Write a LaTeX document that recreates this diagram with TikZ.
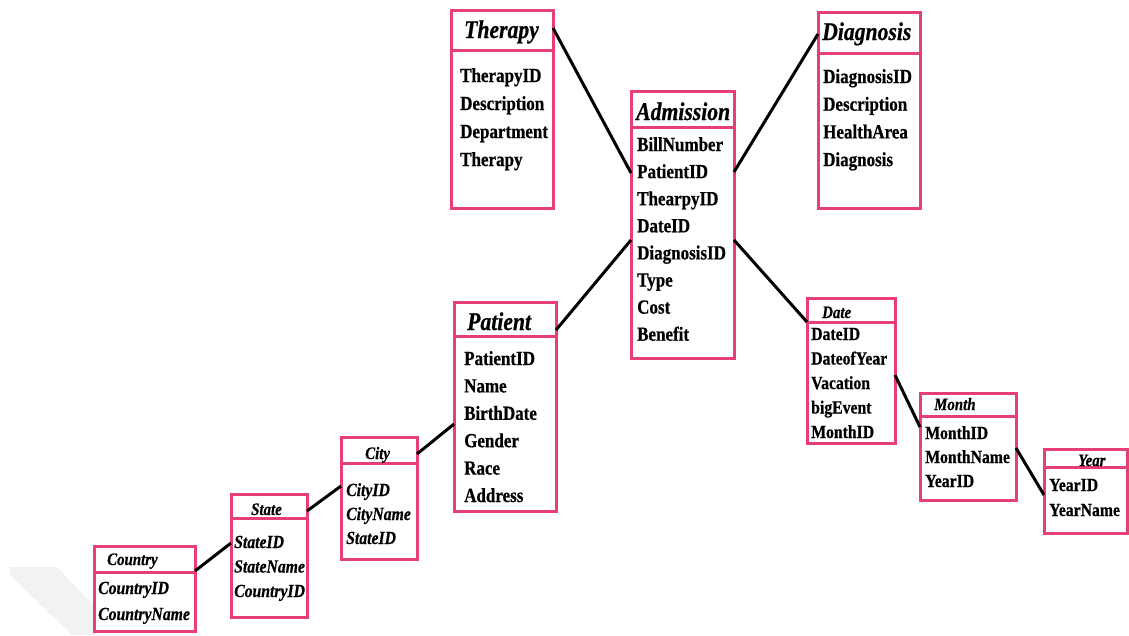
\documentclass[tikz,border=0pt]{standalone}
\usepackage{fontspec}
\newfontfamily\erfont{Liberation Serif}[FakeStretch=0.85,FakeBold=0.6]
\definecolor{entpink}{RGB}{232,62,120}
\begin{document}
\begin{tikzpicture}[x=1pt,y=-1pt,
  ent/.style={draw=entpink, line width=3pt, inner sep=0pt, outer sep=0pt, anchor=north west, fill=white},
  divider/.style={draw=entpink, line width=3pt},
  link/.style={draw=black, line width=3pt},
  bigttl/.style={anchor=base west, inner sep=0pt, font=\erfont\bfseries\itshape\fontsize{25.5}{25.5}\selectfont},
  smallttl/.style={anchor=base west, inner sep=0pt, font=\erfont\bfseries\itshape\fontsize{17.5}{17.5}\selectfont},
  bigfld/.style={anchor=base west, inner sep=0pt, font=\erfont\bfseries\fontsize{20}{20}\selectfont},
  smallfld/.style={anchor=base west, inner sep=0pt, font=\erfont\bfseries\fontsize{18.5}{18.5}\selectfont},
  smallifld/.style={anchor=base west, inner sep=0pt, font=\erfont\bfseries\itshape\fontsize{18.5}{18.5}\selectfont}]
\useasboundingbox (0,0) rectangle (1129,635);
\fill[white] (0,0) rectangle (1129,635);
% faint watermark band
\fill[black!5] (10,567) -- (57,567) -- (95,607) -- (95,635) -- (72,635) -- (10,575) -- cycle;

% entity boxes
\node[ent, minimum width=102pt, minimum height=198pt] (therapy) at (451,10) {};
\node[ent, minimum width=103pt, minimum height=267pt] (admission) at (631,91) {};
\node[ent, minimum width=102pt, minimum height=196pt] (diagnosis) at (818,12) {};
\node[ent, minimum width=102pt, minimum height=209pt] (patient) at (454,302) {};
\node[ent, minimum width=76pt, minimum height=122pt] (city) at (341,437) {};
\node[ent, minimum width=76pt, minimum height=123pt] (state) at (231,494) {};
\node[ent, minimum width=101pt, minimum height=85pt] (country) at (94,546) {};
\node[ent, minimum width=88pt, minimum height=145pt] (date) at (807,298) {};
\node[ent, minimum width=96pt, minimum height=107pt] (month) at (920,393) {};
\node[ent, minimum width=83pt, minimum height=84pt] (year) at (1044,449) {};

% header dividers
\foreach \b/\d in {therapy/40, admission/36, diagnosis/41, patient/34, city/26,
                   state/24, country/26, date/24, month/23, year/18}
  \draw[divider] ([yshift=-\d pt]\b.north west) -- ([yshift=-\d pt]\b.north east);

% relationships
\draw[link] ([yshift=-18pt]therapy.north east) -- ([yshift=-82pt]admission.north west);
\draw[link] ([yshift=-81pt]admission.north east) -- ([yshift=-22pt]diagnosis.north west);
\draw[link] ([yshift=-149pt]admission.north west) -- ([yshift=-28pt]patient.north east);
\draw[link] ([yshift=-149pt]admission.north east) -- ([yshift=-24pt]date.north west);
\draw[link] ([yshift=-77pt]date.north east) -- ([yshift=-34pt]month.north west);
\draw[link] ([yshift=-55pt]month.north east) -- ([yshift=-46pt]year.north west);
\draw[link] ([yshift=-122pt]patient.north west) -- ([yshift=-17pt]city.north east);
\draw[link] ([yshift=-49pt]city.north west) -- ([yshift=-17pt]state.north east);
\draw[link] ([yshift=-49pt]state.north west) -- ([yshift=-25pt]country.north east);

% titles
\node[bigttl] (therapy-t) at (464,38) {Therapy};
\node[bigttl] (admission-t) at (636,120) {Admission};
\node[bigttl] (diagnosis-t) at (822,40) {Diagnosis};
\node[bigttl] (patient-t) at (467,330) {Patient};
\node[smallttl] (city-t) at (365,459) {City};
\node[smallttl] (state-t) at (251,515) {State};
\node[smallttl] (country-t) at (107,565) {Country};
\node[smallttl] (date-t) at (822,318) {Date};
\node[smallttl] (month-t) at (934,410) {Month};
\node[smallttl] (year-t) at (1078,466) {Year};

% attributes
\foreach \t [count=\i] in {TherapyID,Description,Department,Therapy}
  \node[bigfld] (therapy-\i) at (460,{82+28*(\i-1)}) {\t};
\foreach \t [count=\i] in {BillNumber,PatientID,ThearpyID,DateID,DiagnosisID,Type,Cost,Benefit}
  \node[bigfld] (admission-\i) at (637,{151+27.1*(\i-1)}) {\t};
\foreach \t [count=\i] in {DiagnosisID,Description,HealthArea,Diagnosis}
  \node[bigfld] (diagnosis-\i) at (823,{83+27.7*(\i-1)}) {\t};
\foreach \t [count=\i] in {PatientID,Name,BirthDate,Gender,Race,Address}
  \node[bigfld] (patient-\i) at (464,{365+27.4*(\i-1)}) {\t};
\foreach \t [count=\i] in {CityID,CityName,StateID}
  \node[smallifld] (city-\i) at (346,{496+24*(\i-1)}) {\t};
\foreach \t [count=\i] in {StateID,StateName,CountryID}
  \node[smallifld] (state-\i) at (234,{548+24.5*(\i-1)}) {\t};
\foreach \t [count=\i] in {CountryID,CountryName}
  \node[smallifld] (country-\i) at (98,{594+26*(\i-1)}) {\t};
\foreach \t [count=\i] in {DateID,DateofYear,Vacation,bigEvent,MonthID}
  \node[smallfld] (date-\i) at (811,{340+24.5*(\i-1)}) {\t};
\foreach \t [count=\i] in {MonthID,MonthName,YearID}
  \node[smallfld] (month-\i) at (925,{439+24*(\i-1)}) {\t};
\foreach \t [count=\i] in {YearID,YearName}
  \node[smallfld] (year-\i) at (1049,{491+25*(\i-1)}) {\t};
\end{tikzpicture}
\end{document}
